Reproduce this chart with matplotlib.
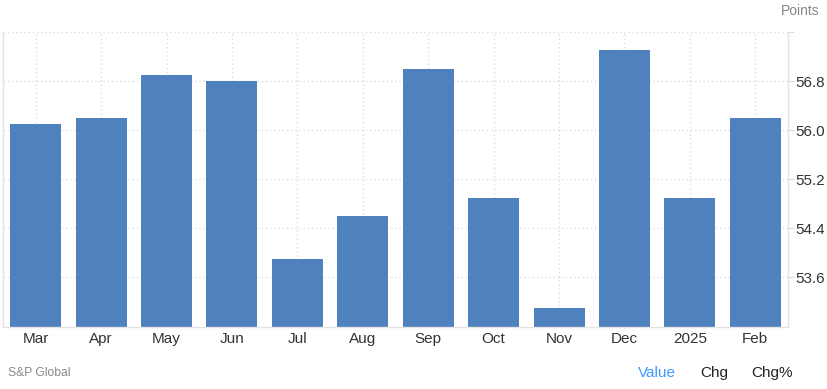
import matplotlib
matplotlib.use("Agg")
import matplotlib.pyplot as plt
import numpy as np

plt.rcParams['font.family'] = ['Liberation Sans', 'DejaVu Sans']

months = ["Mar", "Apr", "May", "Jun", "Jul", "Aug", "Sep", "Oct", "Nov", "Dec", "2025", "Feb"]
values = [56.1, 56.2, 56.9, 56.8, 53.9, 54.6, 57.0, 54.9, 53.1, 57.3, 54.9, 56.2]
yticks = [53.6, 54.4, 55.2, 56.0, 56.8]

bar_color = "#4e81bd"
grid_color = "#dddddd"

fig = plt.figure(figsize=(8.28, 3.89), dpi=100)
ax = fig.add_axes([3 / 828, (389 - 326.5) / 389, 785 / 828, (326.5 - 32) / 389])

x = np.arange(len(months))
ax.bar(x, values, width=0.78, color=bar_color, zorder=2)

ax.set_xlim(-0.5, len(months) - 0.5)
ax.set_ylim(52.8, 57.6)
ax.set_xticks(x)
ax.set_xticklabels(months)
ax.set_yticks(yticks + [57.6])
ax.set_yticklabels([f"{v:.1f}" for v in yticks] + [""])
ax.yaxis.tick_right()

ax.grid(True, color=grid_color, linestyle=(0, (1, 2)), linewidth=1, zorder=0)
ax.tick_params(axis='x', length=0, pad=4, labelsize=11, labelcolor="#333333")
ax.tick_params(axis='y', length=4, color=grid_color, pad=1, labelsize=11, labelcolor="#333333")

ax.spines["top"].set_visible(False)
for s in ["left", "right", "bottom"]:
    ax.spines[s].set_color("#e3e3e3")
    ax.spines[s].set_linewidth(1)

fig.text(820 / 828, 1 - 11 / 389, "Points", ha="right", va="center", fontsize=10, color="#888888")
fig.text(8 / 828, 1 - 373 / 389, "S&P Global", ha="left", va="center", fontsize=8.7, color="#888888")
fig.text(657 / 828, 1 - 373 / 389, "Value", ha="center", va="center", fontsize=11, color="#3d9bff")
fig.text(714 / 828, 1 - 373 / 389, "Chg", ha="center", va="center", fontsize=11, color="#222222")
fig.text(772 / 828, 1 - 373 / 389, "Chg%", ha="center", va="center", fontsize=11, color="#222222")

fig.savefig("out.png", dpi=100)
